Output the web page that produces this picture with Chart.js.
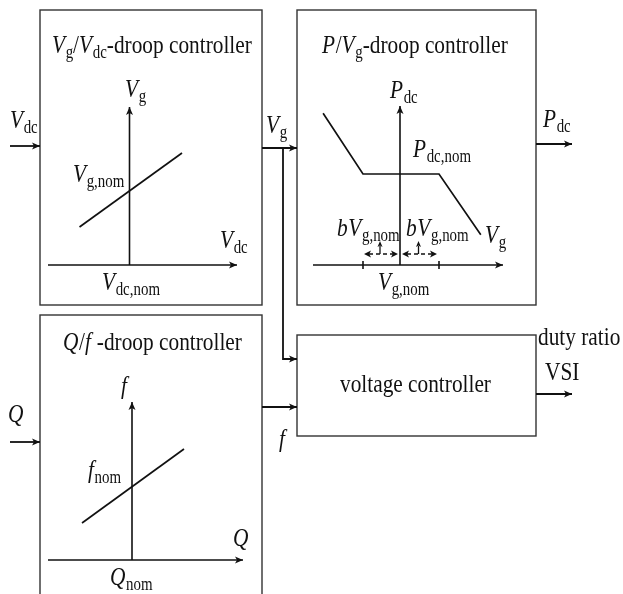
<!DOCTYPE html>
<html>
<head>
<meta charset="utf-8">
<script src="https://cdn.jsdelivr.net/npm/chart.js@4.4.1/dist/chart.umd.min.js"></script>
<style>
  html, body { margin: 0; padding: 0; background: #fff; }
  canvas { display: block; }
</style>
</head>
<body>
<canvas id="diagram" width="623" height="594"></canvas>
<script>
// droop characteristics, as deviation from the nominal point (plot units)
const vgVdcX = [-1.0, 1.05];
const vgVdcY = [-0.72, 0.76];
const pVgX = [-2.05, -1, 1, 2.1];   // +-1 = b*Vg,nom dead band
const pVgY = [1.6, 0, 0, -1.6];
const qfX = [-1.0, 1.04];
const qfY = [-0.74, 0.74];

// where each small plot sits on the page (origin = nominal point)
const plots = {
    vg: { ox: 129.5, oy: 191, unit: 50 },
    p:  { ox: 401,   oy: 174, unit: 38 },
    q:  { ox: 132,   oy: 486, unit: 50 }
};

const INK = '#111';
const FONT = '"Liberation Serif", "DejaVu Serif", serif';
const SQ = 0.82;   // text in the figure is a bit narrow

function toPage(plot, xs, ys) {
    return xs.map((v, i) => ({ x: plot.ox + v * plot.unit, y: plot.oy - ys[i] * plot.unit }));
}

function droopSet(points) {
    return {
        data: points,
        showLine: true,
        borderColor: INK,
        borderWidth: 1.7,
        pointRadius: 0,
        tension: 0
    };
}

// rich text: [text, style] with style 'i' italic, 's' subscript, '' roman
function rich(ctx, x, y, segs, size) {
    ctx.save();
    ctx.translate(x, y);
    ctx.scale(SQ, 1);
    ctx.fillStyle = INK;
    ctx.textBaseline = 'alphabetic';
    let cx = 0;
    segs.forEach(([t, st]) => {
        const sub = st === 's';
        const fs = sub ? size * 0.7 : size;
        ctx.font = (st === 'i' ? 'italic ' : '') + fs + 'px ' + FONT;
        ctx.fillText(t, cx, sub ? size * 0.2 : 0);
        cx += ctx.measureText(t).width + (st === 'i' ? size * 0.03 : 0);
    });
    ctx.restore();
}

const diagramPlugin = {
    id: 'diagram',
    afterDraw(chart) {
        const ctx = chart.ctx;
        const sx = chart.scales.x, sy = chart.scales.y;
        const X = v => sx.getPixelForValue(v);
        const Y = v => sy.getPixelForValue(v);

        ctx.save();
        ctx.strokeStyle = INK;
        ctx.fillStyle = INK;
        ctx.lineWidth = 1.8;

        function line(pts, dash) {
            ctx.setLineDash(dash || []);
            ctx.beginPath();
            pts.forEach(([a, b], i) => i ? ctx.lineTo(X(a), Y(b)) : ctx.moveTo(X(a), Y(b)));
            ctx.stroke();
            ctx.setLineDash([]);
        }
        function head(x1, y1, x2, y2, len, w) {
            const ang = Math.atan2(Y(y2) - Y(y1), X(x2) - X(x1));
            ctx.save();
            ctx.translate(X(x2), Y(y2));
            ctx.rotate(ang);
            ctx.beginPath();
            ctx.moveTo(0, 0);
            ctx.lineTo(-len, -w);
            ctx.lineTo(-len * 0.75, 0);
            ctx.lineTo(-len, w);
            ctx.closePath();
            ctx.fill();
            ctx.restore();
        }
        function arrow(pts, dash) {
            line(pts, dash);
            const a = pts[pts.length - 2], b = pts[pts.length - 1];
            head(a[0], a[1], b[0], b[1], 8, 3.5);
        }
        function box(x1, y1, x2, y2) {
            ctx.save();
            ctx.lineWidth = 1.4;
            ctx.strokeStyle = '#333';
            ctx.strokeRect(X(x1), Y(y1), X(x2) - X(x1), Y(y2) - Y(y1));
            ctx.restore();
        }

        // blocks
        box(40, 10, 262, 305);
        box(297, 10, 536, 305);
        box(40, 315, 262, 620);
        box(297, 335, 536, 436);

        // signal connections
        arrow([[10, 146], [40, 146]]);
        arrow([[262, 148], [297, 148]]);
        arrow([[283, 148], [283, 359], [297, 359]]);
        arrow([[262, 407], [297, 407]]);
        arrow([[10, 442], [40, 442]]);
        arrow([[536, 144], [572, 144]]);
        arrow([[536, 394], [572, 394]]);

        // plot axes
        ctx.lineWidth = 1.6;
        arrow([[129.5, 265], [129.5, 107]]);
        arrow([[48, 265], [237, 265]]);
        arrow([[400, 265], [400, 106]]);
        arrow([[313, 265], [503, 265]]);
        arrow([[132, 560], [132, 402]]);
        arrow([[48, 560], [243, 560]]);

        // dead band marks
        const p = plots.p;
        const b1 = p.ox + pVgX[1] * p.unit, b2 = p.ox + pVgX[2] * p.unit;
        line([[b1, 261], [b1, 269]]);
        line([[b2, 261], [b2, 269]]);
        ctx.lineWidth = 1.3;
        [[b1 + 1, p.ox - 3], [p.ox + 1, b2 - 2]].forEach(([a, c]) => {
            const m = (a + c) / 2 - 1;
            line([[a + 5, 254], [c - 5, 254]], [4, 3]);
            head(c, 254, a, 254, 7, 3.5);
            head(a, 254, c, 254, 7, 3.5);
            line([[m, 254], [m, 246]]);
            head(m, 252, m, 241, 6, 2.5);
        });
        ctx.restore();

        // labels
        const S = 26;
        const I = t => [t, 'i'], B = t => [t, 's'], R = t => [t, ''];
        rich(ctx, X(52), Y(53), [I('V'), B('g'), R('/'), I('V'), B('dc'), R('-droop controller')], S);
        rich(ctx, X(322), Y(53), [I('P'), R('/'), I('V'), B('g'), R('-droop controller')], S);
        rich(ctx, X(63), Y(350), [I('Q'), R('/'), I('f'), R(' -droop controller')], S);
        rich(ctx, X(340), Y(392), [R('voltage controller')], S);

        rich(ctx, X(10), Y(128), [I('V'), B('dc')], S);
        rich(ctx, X(266), Y(133), [I('V'), B('g')], S);
        rich(ctx, X(543), Y(127), [I('P'), B('dc')], S);
        rich(ctx, X(8), Y(422), [I('Q')], S);
        rich(ctx, X(279), Y(447), [I('f')], S);
        rich(ctx, X(538), Y(345), [R('duty ratio')], S);
        rich(ctx, X(545), Y(380), [R('VSI')], S);

        rich(ctx, X(125), Y(97), [I('V'), B('g')], S);
        rich(ctx, X(73), Y(182), [I('V'), B('g,nom')], S);
        rich(ctx, X(220), Y(248), [I('V'), B('dc')], S);
        rich(ctx, X(102), Y(290), [I('V'), B('dc,nom')], S);

        rich(ctx, X(390), Y(98), [I('P'), B('dc')], S);
        rich(ctx, X(413), Y(157), [I('P'), B('dc,nom')], S);
        rich(ctx, X(485), Y(243), [I('V'), B('g')], S);
        rich(ctx, X(378), Y(290), [I('V'), B('g,nom')], S);
        rich(ctx, X(337), Y(236), [I('b'), I('V'), B('g,nom')], S);
        rich(ctx, X(406), Y(236), [I('b'), I('V'), B('g,nom')], S);

        rich(ctx, X(121), Y(394), [I('f')], S);
        rich(ctx, X(88), Y(478), [I('f'), B('nom')], S);
        rich(ctx, X(233), Y(546), [I('Q')], S);
        rich(ctx, X(110), Y(585), [I('Q'), B('nom')], S);
    }
};

new Chart(document.getElementById('diagram'), {
    type: 'scatter',
    data: {
        datasets: [
            droopSet(toPage(plots.vg, vgVdcX, vgVdcY)),
            droopSet(toPage(plots.p, pVgX, pVgY)),
            droopSet(toPage(plots.q, qfX, qfY))
        ]
    },
    options: {
        responsive: false,
        animation: false,
        layout: { padding: 0 },
        scales: {
            x: { type: 'linear', min: 0, max: 623, display: false },
            y: { type: 'linear', min: 0, max: 594, reverse: true, display: false }
        },
        plugins: {
            legend: { display: false },
            tooltip: { enabled: false }
        }
    },
    plugins: [diagramPlugin]
});
</script>
</body>
</html>
